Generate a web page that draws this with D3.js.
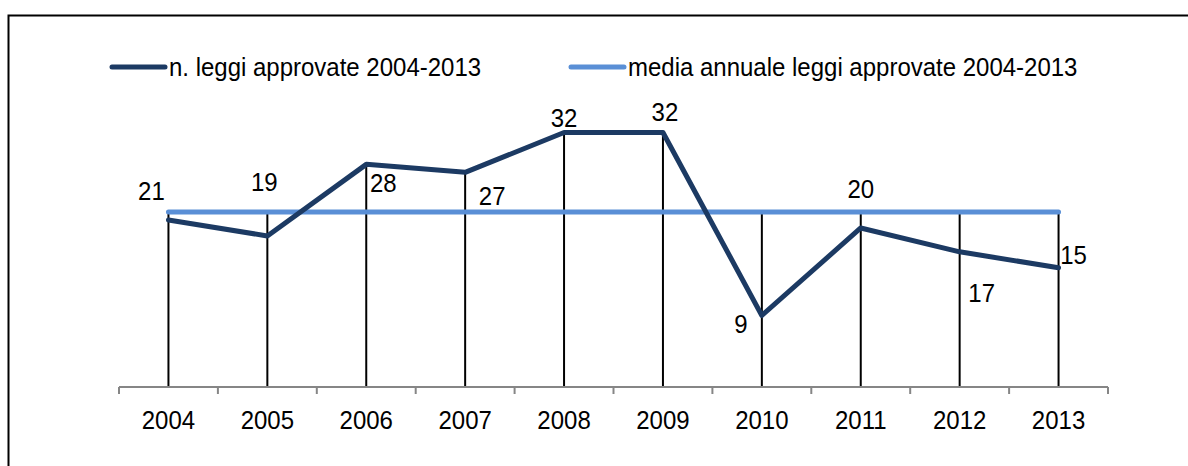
<!DOCTYPE html>
<html>
<head>
<meta charset="utf-8">
<script src="https://cdn.jsdelivr.net/npm/d3@7"></script>
<style>
  html, body { margin: 0; padding: 0; background: #fff; }
  svg text { font-family: "Liberation Sans", Arial, sans-serif; fill: #000; }
</style>
</head>
<body>
<svg id="chart" width="1188" height="466"></svg>
<script>
// Categories and series
const anni = ["2004", "2005", "2006", "2007", "2008", "2009", "2010", "2011", "2012", "2013"];
const leggiApprovate = [21, 19, 28, 27, 32, 32, 9, 20, 17, 15];
const mediaAnnuale = [22, 22, 22, 22, 22, 22, 22, 22, 22, 22];
const nomiSerie = ["n. leggi approvate 2004-2013", "media annuale leggi approvate 2004-2013"];

// Placement of each value label relative to its point (dx, dy in px)
const labelOffsets = [
  [-17, -29], [-3, -54], [17, 19], [27, 24], [0, -15],
  [2, -21], [-21, 8], [0, -39], [22, 41], [15, -13]
];

const colors = { leggi: "#1c3a63", media: "#5a8fd6", axis: "#868686" };
const FONT_SIZE = 24, STRETCH_Y = 1.05;

const svg = d3.select("#chart");
const W = 1188, H = 466;

// Places a text at (px, py), slightly elongated vertically
function placeText(sel, px, py) {
  sel.attr("x", 0).attr("y", 0)
    .attr("transform", (d, i) => `translate(${px(d, i)},${py(d, i)}) scale(1,${STRETCH_Y})`)
    .attr("font-size", FONT_SIZE)
    .attr("dy", "0.36em");
  return sel;
}

// Outer frame (continues beyond the right and bottom edges)
svg.append("rect")
  .attr("x", 8.5).attr("y", 15.5)
  .attr("width", W + 20).attr("height", H + 20)
  .attr("fill", "none").attr("stroke", "#000").attr("stroke-width", 2);

const x = d3.scaleBand().domain(anni).range([119, 1108]).paddingInner(0).paddingOuter(0);
const y = d3.scaleLinear().domain([0, 35]).range([387, 108.7]);
const cx = d => x(d) + x.bandwidth() / 2;

// Drop lines from the highest series down to the axis
svg.append("g").selectAll("line")
  .data(anni)
  .join("line")
  .attr("x1", cx).attr("x2", cx)
  .attr("y1", (d, i) => y(Math.max(leggiApprovate[i], mediaAnnuale[i])))
  .attr("y2", y(0))
  .attr("stroke", "#000").attr("stroke-width", 2);

// Category axis with tick marks between the categories
const axisG = svg.append("g");
axisG.append("line")
  .attr("x1", x.range()[0]).attr("x2", x.range()[1])
  .attr("y1", y(0)).attr("y2", y(0))
  .attr("stroke", colors.axis).attr("stroke-width", 2);
const bounds = anni.map(d => x(d)).concat([x(anni[anni.length - 1]) + x.bandwidth()]);
axisG.selectAll(".tick").data(bounds).join("line")
  .attr("class", "tick")
  .attr("x1", d => d).attr("x2", d => d)
  .attr("y1", y(0)).attr("y2", y(0) + 7)
  .attr("stroke", colors.axis).attr("stroke-width", 2);
placeText(
  axisG.selectAll(".lbl").data(anni).join("text").attr("class", "lbl").attr("text-anchor", "middle"),
  d => cx(d), () => y(0) + 33
).text(d => d);

const line = d3.line().x((d, i) => cx(anni[i])).y(d => y(d));

// Average line
svg.append("path")
  .datum(mediaAnnuale)
  .attr("d", line)
  .attr("fill", "none").attr("stroke", colors.media)
  .attr("stroke-width", 5).attr("stroke-linecap", "round");

// Laws approved per year
svg.append("path")
  .datum(leggiApprovate)
  .attr("d", line)
  .attr("fill", "none").attr("stroke", colors.leggi)
  .attr("stroke-width", 5).attr("stroke-linecap", "round").attr("stroke-linejoin", "round");

// Value labels
placeText(
  svg.append("g").selectAll("text").data(leggiApprovate).join("text").attr("text-anchor", "middle"),
  (d, i) => cx(anni[i]) + labelOffsets[i][0],
  (d, i) => y(d) + labelOffsets[i][1]
).text(d => d);

// Legend
const legendItems = [
  { name: nomiSerie[0], color: colors.leggi, x: 112 },
  { name: nomiSerie[1], color: colors.media, x: 571 }
];
const lg = svg.append("g").selectAll("g").data(legendItems).join("g")
  .attr("transform", d => `translate(${d.x},67)`);
lg.append("line")
  .attr("x1", 0).attr("x2", 53).attr("y1", 0).attr("y2", 0)
  .attr("stroke", d => d.color).attr("stroke-width", 5).attr("stroke-linecap", "round");
placeText(lg.append("text"), () => 57, () => 0).text(d => d.name);
</script>
</body>
</html>
